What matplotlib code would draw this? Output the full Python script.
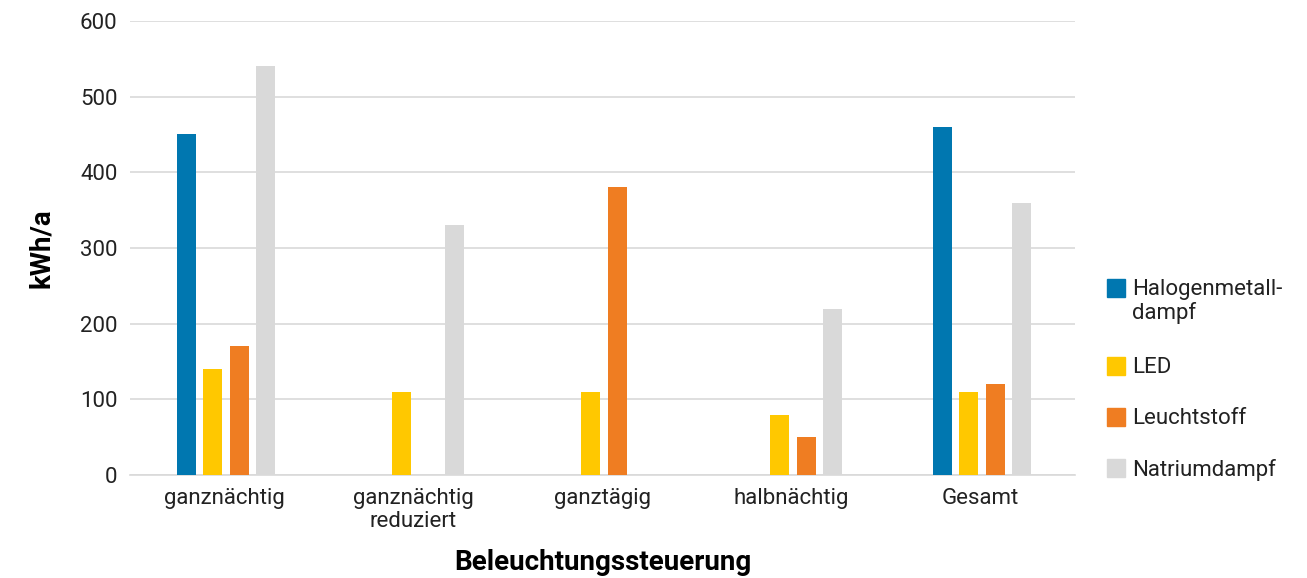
import matplotlib.pyplot as plt
from matplotlib.patches import Rectangle
import numpy as np

# Energieverbrauch nach Beleuchtungssteuerung und Lampentyp
kategorien = ["ganznächtig", "ganznächtig\nreduziert", "ganztägig", "halbnächtig", "Gesamt"]
halogenmetalldampf = [450, 0, 0, 0, 460]
led = [140, 110, 110, 80, 110]
leuchtstoff = [170, 0, 380, 50, 120]
natriumdampf = [540, 330, 0, 220, 360]

serien = [
    ("Halogenmetall-\ndampf", halogenmetalldampf, "#0077b0"),
    ("LED", led, "#ffc800"),
    ("Leuchtstoff", leuchtstoff, "#ef7d22"),
    ("Natriumdampf", natriumdampf, "#d9d9d9"),
]

plt.rcParams['font.family'] = ['Roboto', 'DejaVu Sans']

W, H = 1307, 578
fig = plt.figure(figsize=(W / 100, H / 100), dpi=100)
ax = fig.add_axes([0.0995, 0.178, 0.723, 0.786])

x = np.arange(len(kategorien))
abstand = 0.14
breite = 0.10
for i, (name, werte, farbe) in enumerate(serien):
    ax.bar(x + (i - 1.5) * abstand + 0.008, werte, width=breite, color=farbe,
           label=name, zorder=3)

ax.set_xlim(-0.5, len(kategorien) - 0.5)
ax.set_ylim(0, 600)
ax.set_yticks(range(0, 601, 100))
ax.set_xticks(x)
ax.set_xticklabels(kategorien, linespacing=1.15)
ax.tick_params(axis='both', length=0, labelsize=16, colors='#222222')
ax.tick_params(axis='y', pad=9)
ax.tick_params(axis='x', pad=9)
ax.grid(axis='y', color='#d9d9d9', linewidth=1.2, zorder=0)
for s in ['top', 'right', 'left']:
    ax.spines[s].set_visible(False)
ax.spines['bottom'].set_color('#d9d9d9')
ax.spines['bottom'].set_linewidth(1.2)

ax.set_ylabel("kWh/a", fontsize=20, fontweight='bold', labelpad=18)
ax.set_xlabel("Beleuchtungssteuerung", fontsize=20, fontweight='bold', labelpad=12)

# Legende von Hand: Kästchen auf Höhe der ersten Textzeile
zeilen_px = [288, 366, 417, 468]
for (name, _, farbe), y_px in zip(serien, zeilen_px):
    fig.patches.append(Rectangle((1107 / W, 1 - (y_px + 9) / H), 18 / W, 18 / H,
                                 transform=fig.transFigure, color=farbe))
    fig.text(1132 / W, 1 - (y_px - 9) / H, name, fontsize=16, color='#222222',
             va='top', ha='left', linespacing=1.1)

fig.savefig("out.png", dpi=100)
